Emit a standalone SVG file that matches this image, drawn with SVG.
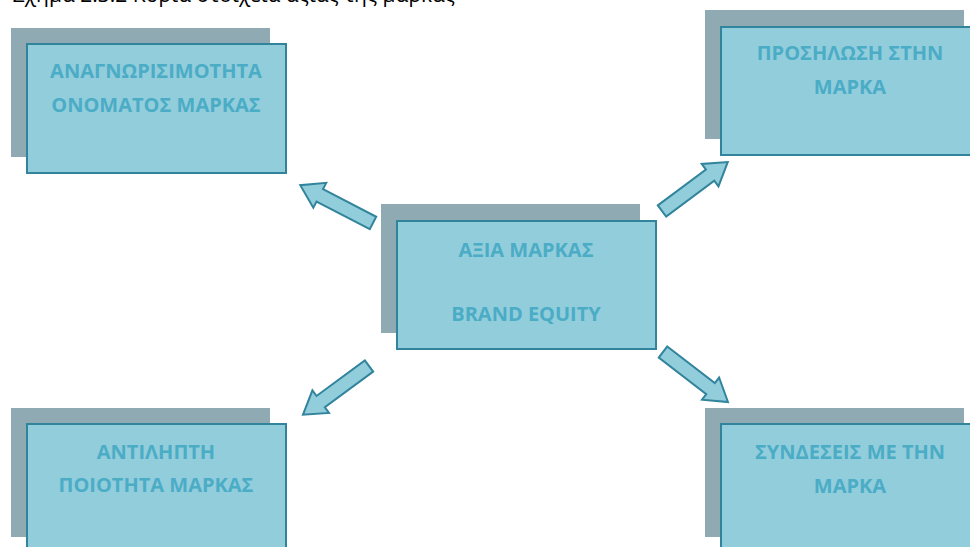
<svg xmlns="http://www.w3.org/2000/svg" xmlns:xlink="http://www.w3.org/1999/xlink" width="970" height="547" viewBox="0 0 970 547">
<style>
.shadow{fill:#8FAAB2;}
.box{fill:#92CDDC;stroke:#31849B;stroke-width:2;}
.lbl{font-family:"Open Sans","Liberation Sans",sans-serif;font-weight:bold;font-size:20px;fill:#4BACC6;text-anchor:middle;}
.cap{font-family:"Open Sans","Liberation Sans",sans-serif;font-size:21px;fill:#000;}
.arr{fill:#92CDDC;stroke:#31849B;stroke-width:2;stroke-linejoin:miter;}
</style>
<defs>
<path id="ar" d="M0,-7 L60,-7 L60,-14 L82,0 L60,14 L60,7 L0,7 Z"/>
</defs>
<rect width="970" height="547" fill="#fff"/>
<text class="cap" x="455" y="2" text-anchor="end">Σχήμα 2.3.2 Κύρια στοιχεία αξίας της μάρκας</text>
<g id="connectors">
<use xlink:href="#ar" class="arr" transform="translate(373,223) rotate(207.5)"/>
<use xlink:href="#ar" class="arr" transform="translate(662,211) rotate(-36.7)"/>
<use xlink:href="#ar" class="arr" transform="translate(369,366) rotate(143.6)"/>
<use xlink:href="#ar" class="arr" transform="translate(663,352) rotate(37.6)"/>
</g>
<g id="recognition">
<rect class="shadow" x="11" y="28" width="259" height="129"/>
<rect class="box" x="27" y="44" width="259" height="129"/>
<text class="lbl" x="156" y="78">ΑΝΑΓΝΩΡΙΣΙΜΟΤΗΤΑ</text>
<text class="lbl" x="156" y="112">ΟΝΟΜΑΤΟΣ ΜΑΡΚΑΣ</text>
</g>
<g id="equity">
<rect class="shadow" x="381" y="204" width="259" height="129"/>
<rect class="box" x="397" y="221" width="259" height="128"/>
<text class="lbl" x="526" y="257">ΑΞΙΑ ΜΑΡΚΑΣ</text>
<text class="lbl" x="526" y="321">BRAND EQUITY</text>
</g>
<g id="loyalty">
<rect class="shadow" x="705" y="10" width="259" height="129"/>
<rect class="box" x="721" y="27" width="259" height="128"/>
<text class="lbl" x="850" y="60">ΠΡΟΣΗΛΩΣΗ ΣΤΗΝ</text>
<text class="lbl" x="850" y="94">ΜΑΡΚΑ</text>
</g>
<g id="quality">
<rect class="shadow" x="11" y="408" width="259" height="129"/>
<rect class="box" x="27" y="424" width="259" height="129"/>
<text class="lbl" x="156" y="459">ΑΝΤΙΛΗΠΤΗ</text>
<text class="lbl" x="156" y="492">ΠΟΙΟΤΗΤΑ ΜΑΡΚΑΣ</text>
</g>
<g id="associations">
<rect class="shadow" x="705" y="408" width="259" height="129"/>
<rect class="box" x="721" y="424" width="259" height="129"/>
<text class="lbl" x="850" y="459">ΣΥΝΔΕΣΕΙΣ ΜΕ ΤΗΝ</text>
<text class="lbl" x="850" y="493">ΜΑΡΚΑ</text>
</g>
</svg>
